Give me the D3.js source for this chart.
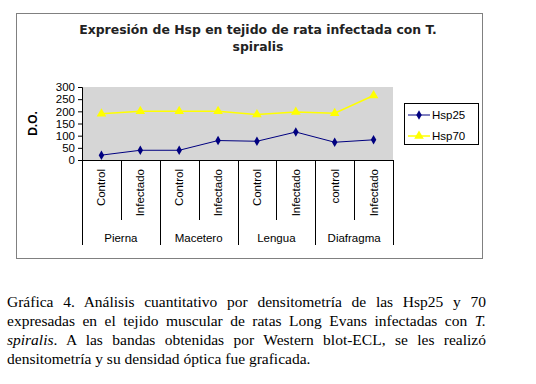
<!DOCTYPE html>
<html>
<head>
<meta charset="utf-8">
<script src="https://cdn.jsdelivr.net/npm/d3@7"></script>
<style>
  body { margin: 0; background: #fff; width: 536px; height: 384px; overflow: hidden; position: relative; }
  #chart { position: absolute; left: 0; top: 0; }
  #caption { position: absolute; left: 7px; top: 292px; width: 479px; font-family: "Liberation Serif", "Times New Roman", serif; font-size: 15.5px; line-height: 19px; color: #000; }
  #caption div { text-align: justify; text-align-last: justify; white-space: nowrap; }
  #caption div.last { text-align-last: left; }
</style>
</head>
<body>
<div id="chart"></div>
<div id="caption"></div>
<script>
// data
var tissues = ["Pierna", "Macetero", "Lengua", "Diafragma"];
var conditions = ["Control", "Infectado", "Control", "Infectado", "Control", "Infectado", "control", "Infectado"];
var hsp25 = [20, 40, 40, 80, 77, 115, 73, 83];
var hsp70 = [190, 200, 200, 200, 187, 197, 192, 265];
var yTicks = [0, 50, 100, 150, 200, 250, 300];

var width = 536, height = 290;
var plot = { left: 82, right: 393, top: 87, bottom: 160 };

var svg = d3.select("#chart").append("svg")
    .attr("width", width)
    .attr("height", height);

// outer chart frame
svg.append("rect")
    .attr("x", 16.5).attr("y", 13.5)
    .attr("width", 466).attr("height", 245)
    .attr("fill", "#fff")
    .attr("stroke", "#808080")
    .attr("stroke-width", 1);

// title (stretched to the width seen in the picture)
var title = svg.append("text")
    .attr("text-anchor", "middle")
    .attr("font-family", "DejaVu Sans, Verdana, sans-serif")
    .attr("font-weight", "bold")
    .attr("font-size", 11.5)
    .attr("fill", "#222");
var t1 = title.append("tspan").attr("x", 258).attr("y", 34).text("Expresión de Hsp en tejido de rata infectada con T.");
title.append("tspan").attr("x", 258).attr("y", 51).text("spiralis");
var w1 = t1.node().getComputedTextLength();
if (w1 > 0) title.attr("font-size", 11.5 * 358 / w1);

var idx = d3.range(conditions.length);
var x = d3.scaleBand().domain(idx).range([plot.left, plot.right]);
var y = d3.scaleLinear().domain([0, 300]).range([plot.bottom, plot.top]);

// plot area
svg.append("rect")
    .attr("x", plot.left).attr("y", plot.top)
    .attr("width", plot.right - plot.left).attr("height", plot.bottom - plot.top)
    .attr("fill", "#d6d6d6");

// y axis
var yAxis = svg.append("g")
    .attr("transform", "translate(" + plot.left + ",0)")
    .call(d3.axisLeft(y).tickValues(yTicks).tickSize(4).tickPadding(3));
yAxis.select(".domain").attr("stroke", "#000");
yAxis.selectAll("line").attr("stroke", "#000");
yAxis.selectAll("text")
    .attr("font-family", "Liberation Sans, Arial, sans-serif")
    .attr("font-size", 11.5)
    .attr("fill", "#000");

svg.append("text")
    .attr("transform", "translate(37," + ((plot.top + plot.bottom) / 2) + ") rotate(-90)")
    .attr("text-anchor", "middle")
    .attr("font-family", "Liberation Sans, Arial, sans-serif")
    .attr("font-weight", "bold")
    .attr("font-size", 12)
    .text("D.O.");

// category axis: baseline, dividers and labels
var cat = svg.append("g").attr("stroke", "#000").attr("stroke-width", 1);
cat.append("line")
    .attr("x1", plot.left).attr("x2", plot.right)
    .attr("y1", plot.bottom + 0.5).attr("y2", plot.bottom + 0.5);
cat.selectAll("line.div")
    .data(d3.range(conditions.length + 1))
    .join("line")
    .attr("class", "div")
    .attr("x1", function(d) { return Math.round(d === conditions.length ? plot.right : x(d)) + 0.5; })
    .attr("x2", function(d) { return Math.round(d === conditions.length ? plot.right : x(d)) + 0.5; })
    .attr("y1", plot.bottom)
    .attr("y2", function(d) { return d % 2 === 0 ? 245 : 220; });

svg.selectAll("text.cond")
    .data(conditions)
    .join("text")
    .attr("class", "cond")
    .attr("transform", function(d, i) {
        return "translate(" + (x(i) + x.bandwidth() / 2 + 4) + ",169) rotate(-90)";
    })
    .attr("text-anchor", "end")
    .attr("font-family", "Liberation Sans, Arial, sans-serif")
    .attr("font-size", 11.5)
    .text(function(d) { return d; });

svg.selectAll("text.tissue")
    .data(tissues)
    .join("text")
    .attr("class", "tissue")
    .attr("x", function(d, i) { return x(i * 2) + x.bandwidth(); })
    .attr("y", 242)
    .attr("text-anchor", "middle")
    .attr("font-family", "Liberation Sans, Arial, sans-serif")
    .attr("font-size", 11.5)
    .text(function(d) { return d; });

// series
var line = d3.line()
    .x(function(d, i) { return x(i) + x.bandwidth() / 2; })
    .y(function(d) { return y(d); });

var tri = d3.symbol().type(d3.symbolTriangle).size(40);
var dia = d3.symbol().type(d3.symbolDiamond).size(26);

svg.append("path").datum(hsp70)
    .attr("d", line).attr("fill", "none")
    .attr("stroke", "#ffff00").attr("stroke-width", 1.5);
svg.selectAll("path.m70").data(hsp70).join("path")
    .attr("class", "m70")
    .attr("d", tri)
    .attr("transform", function(d, i) { return "translate(" + (x(i) + x.bandwidth() / 2) + "," + y(d) + ")"; })
    .attr("fill", "#ffff00");

svg.append("path").datum(hsp25)
    .attr("d", line).attr("fill", "none")
    .attr("stroke", "#000080").attr("stroke-width", 1);
svg.selectAll("path.m25").data(hsp25).join("path")
    .attr("class", "m25")
    .attr("d", dia)
    .attr("transform", function(d, i) { return "translate(" + (x(i) + x.bandwidth() / 2) + "," + y(d) + ")"; })
    .attr("fill", "#000080");

// legend
var legend = svg.append("g");
legend.append("rect")
    .attr("x", 404.5).attr("y", 103.5)
    .attr("width", 74).attr("height", 41)
    .attr("fill", "#fff").attr("stroke", "#000");
var series = [
    { name: "Hsp25", color: "#000080", sym: dia, w: 1 },
    { name: "Hsp70", color: "#ffff00", sym: tri, w: 1.5 }
];
series.forEach(function(s, i) {
    var ly = 115 + i * 21;
    legend.append("line")
        .attr("x1", 408).attr("x2", 430).attr("y1", ly).attr("y2", ly)
        .attr("stroke", s.color).attr("stroke-width", s.w);
    legend.append("path")
        .attr("d", s.sym)
        .attr("transform", "translate(419," + ly + ")")
        .attr("fill", s.color);
    legend.append("text")
        .attr("x", 432).attr("y", ly + 4)
        .attr("font-family", "Liberation Sans, Arial, sans-serif")
        .attr("font-size", 11.5)
        .text(s.name);
});

// caption below the chart
var cap = d3.select("#caption");
cap.append("div").text("Gráfica 4. Análisis cuantitativo por densitometría de las Hsp25 y 70");
cap.append("div").html("expresadas en el tejido muscular de ratas Long Evans infectadas con <i>T.</i>");
cap.append("div").html("<i>spiralis</i>. A las bandas obtenidas por Western blot-ECL, se les realizó");
cap.append("div").attr("class", "last").text("densitometría y su densidad óptica fue graficada.");
</script>
</body>
</html>
